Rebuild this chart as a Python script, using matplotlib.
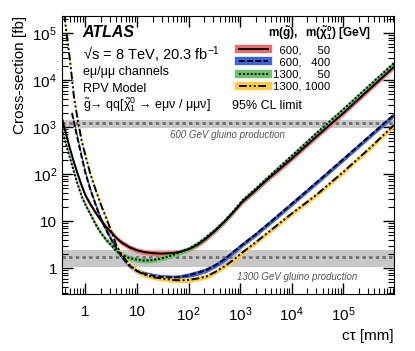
import numpy as np
import matplotlib.pyplot as plt
from matplotlib.lines import Line2D
from matplotlib.ticker import FuncFormatter, NullFormatter, LogLocator

plt.rcParams.update({
    "font.family": ["Liberation Sans", "DejaVu Sans"],
    "mathtext.fontset": "custom",
    "mathtext.rm": "Liberation Sans",
    "mathtext.it": "Liberation Sans:italic",
    "mathtext.bf": "Liberation Sans:bold",
    "font.size": 11,
})

# c*tau grid [mm]
ctau = [0.35, 0.4, 0.5, 0.6, 0.7, 0.85, 1, 1.25, 1.6, 2, 2.5, 3.2, 4, 5, 7,
        10, 14, 20, 30, 50, 70, 100, 150, 220, 330, 500, 750, 1100, 2000,
        3300, 6000, 1e4, 3e4, 1e5, 3e5, 9.5e5]
ctau_blue = [0.55] + ctau[3:]
ctau_yellow = [0.39, 0.43] + ctau[2:]

# 95% CL cross-section limits [fb]
xs_600_50 = [1580, 891, 355, 178, 105, 56.2, 35.5, 22.9, 14.8, 10.5, 7.59,
             5.75, 4.37, 3.55, 2.82, 2.40, 2.19, 2.09, 2.04, 2.09, 2.24, 2.51,
             3.16, 4.27, 6.31, 9.77, 15.8, 25.7, 45.7, 75.9, 132, 214, 631,
             2000, 6030, 19100]
xs_600_400 = [2000, 1260, 603, 229, 107, 46.8, 21.4, 11.2, 6.61, 3.98, 2.63,
              1.78, 1.15, 0.871, 0.759, 0.692, 0.646, 0.631, 0.646, 0.708,
              0.794, 0.912, 1.15, 1.55, 2.24, 3.16, 5.25, 8.32, 14.5, 23.4,
              66.1, 209, 603, 1820]
xs_1300_50 = [891, 525, 224, 112, 63.1, 33.1, 22.4, 14.1, 8.32, 5.62, 4.07,
              3.09, 2.29, 1.95, 1.66, 1.51, 1.45, 1.48, 1.62, 1.91, 2.19, 2.57,
              3.31, 4.57, 6.61, 10.2, 16.6, 27.5, 49.0, 81.3, 148, 245, 741,
              2400, 7240, 22900]
xs_1300_1000 = [251000, 100000, 28200, 4470, 1580, 501, 251, 100, 44.7, 22.4,
                12.0, 6.03, 3.02, 2.0, 1.20, 0.871, 0.724, 0.646, 0.603, 0.562,
                0.550, 0.562, 0.603, 0.661, 0.832, 1.10, 1.51, 2.14, 3.55,
                5.50, 9.33, 14.5, 36.3, 112, 331, 1100]

labels = [("600", "50"), ("600", "400"), ("1300", "50"), ("1300", "1000")]

# gluino production cross-sections [fb]
gluino_mass = [600, 1300]
gluino_xs = [1200, 1.72]
gluino_lo = [970, 1.05]
gluino_hi = [1450, 2.4]

series = [
    (ctau, xs_600_50, "#f26b6b", "-"),
    (ctau_blue, xs_600_400, "#3c64dc", (0, (3, 1.2))),
    (ctau, xs_1300_50, "#6cc36c", (0, (1, 1))),
    (ctau_yellow, xs_1300_1000, "#ffcc44", (0, (4, 1.3, 1, 1.3, 1, 1.3))),
]
band = 1.13

fig = plt.figure(figsize=(4.15, 3.51), dpi=100)
ax = fig.add_axes([0.149, 0.162, 0.8, 0.792])

for m, c, lo, hi in zip(gluino_mass, gluino_xs, gluino_lo, gluino_hi):
    ax.axhspan(lo, hi, color="#c8c8c8", lw=0, zorder=1)
    ax.axhline(c, color="#6e6e6e", ls=(0, (1.2, 1.2)), lw=2, zorder=1.5)

handles = []
for x, y, col, ls in series:
    y = np.array(y)
    ax.fill_between(x, y / band, y * band, color=col, lw=0, zorder=2)
    ax.plot(x, y, color="k", ls=ls, lw=1.4, zorder=3)
    handles.append((Line2D([], [], color=col, lw=6),
                    Line2D([], [], color="k", ls=ls, lw=1.4)))

ax.set_xscale("log")
ax.set_yscale("log")
ax.set_xlim(0.35, 9.5e5)
ax.set_ylim(0.28, 2.3e5)


def fmt(v, pos):
    n = round(np.log10(v))
    if n == 0:
        return "1"
    if n == 1:
        return "10"
    if n < 0:
        return ""
    return r"$10^{%d}$" % n


for axis in (ax.xaxis, ax.yaxis):
    axis.set_major_locator(LogLocator(base=10, numticks=20))
    axis.set_minor_locator(LogLocator(base=10, subs=np.arange(2, 10), numticks=20))
    axis.set_major_formatter(FuncFormatter(fmt))
    axis.set_minor_formatter(NullFormatter())
ax.tick_params(which="both", direction="in", top=True, right=True, labelsize=11)
ax.tick_params(which="major", length=8, width=1)
ax.tick_params(which="minor", length=4, width=0.8)
ax.tick_params(axis="x", pad=8)

ax.set_xlabel("cτ [mm]", fontsize=11, loc="right")
ax.set_ylabel("Cross-section [fb]", fontsize=11, loc="top")

tr = ax.transAxes
ax.text(0.063, 0.94, "ATLAS", transform=tr, fontsize=11.5, weight="bold",
        style="italic", va="center")
ax.text(0.063, 0.86, "√s = 8 TeV, 20.3 fb$^{-1}$", transform=tr,
        fontsize=10.5, va="center")
ax.text(0.063, 0.80, "eμ/μμ channels", transform=tr, fontsize=9, va="center")
ax.text(0.063, 0.738, "RPV Model", transform=tr, fontsize=9, va="center")
ax.text(0.063, 0.68,
        r"$\mathregular{\tilde{g}}$→ qq[$\mathrm{\tilde{\chi}^{0}_{1}}$ → eμν / μμν]",
        transform=tr, fontsize=9, va="center")
ax.text(0.512, 0.676, "95% CL limit", transform=tr, fontsize=9, va="center")

ax.text(0.5, 0.572, "%d GeV gluino production" % gluino_mass[0], transform=tr,
        fontsize=7, style="italic", color="#555555", ha="center", va="center")
ax.text(0.708, 0.061, "%d GeV gluino production" % gluino_mass[1], transform=tr,
        fontsize=7, style="italic", color="#555555", ha="center", va="center")

ax.text(0.62, 0.94, r"$\mathbf{m(\tilde{g}),\ \ m(\tilde{\chi}^{0}_{1})}$ [GeV]",
        transform=tr, fontsize=8.5, weight="bold", va="center")
fs = "\u2007"
leg_labels = [a.rjust(4, fs) + ", " + b.rjust(4, fs) for a, b in labels]
ax.legend(handles, leg_labels, loc="upper left", bbox_to_anchor=(0.52, 0.912),
          frameon=False, fontsize=8.2, handlelength=2.5, handletextpad=0.5,
          labelspacing=0.2, borderaxespad=0)

fig.savefig("out.png", dpi=100)
